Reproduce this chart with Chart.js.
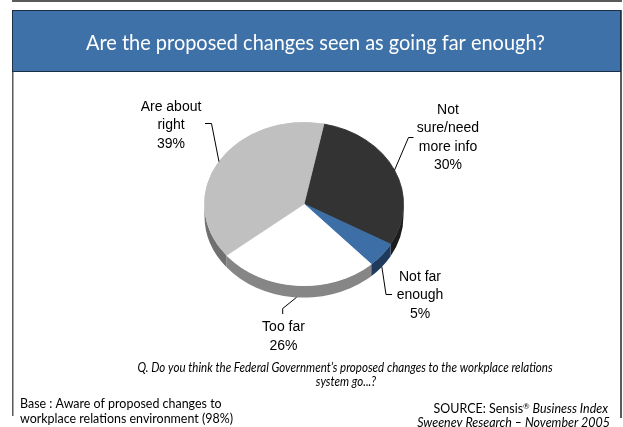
<!DOCTYPE html>
<html>
<head>
<meta charset="utf-8">
<script src="https://cdn.jsdelivr.net/npm/chart.js@4/dist/chart.umd.min.js"></script>
<style>
  html, body { margin: 0; padding: 0; background: #fff; }
  canvas { display: block; }
</style>
</head>
<body>
<canvas id="chart" width="623" height="427"></canvas>
<script>
// answers, clockwise from just right of twelve o'clock
const answers = ['Not sure/need more info', 'Not far enough', 'Too far', 'Are about right'];
const answerLines = [['Not', 'sure/need', 'more info'], ['Not far', 'enough'], ['Too far'], ['Are about', 'right']];
const shares = [30, 5, 26, 39];

const topColors = ['#333333', '#3d6ea6', '#ffffff', '#c0c0c0'];
const sideColors = ['#1c1c1c', '#1f3a5c', '#868686', '#707070'];

// where each label sits: centre x, first line y, leader elbow and end
const labelSpots = [
    { x: 448, y: 110, elbow: [408.5, 137.5], end: [413.5, 137.5] },
    { x: 420, y: 277, elbow: [386, 294.5], end: [392, 294.5] },
    { x: 283.5, y: 327.5, elbow: [282.7, 308.5], end: [282.7, 314] },
    { x: 171, y: 107, elbow: [211.5, 123.5], end: [205, 123.5] },
];

const title = 'Are the proposed changes seen as going far enough?';
const question = ['Q. Do you think the Federal Government\u2019s proposed changes to the workplace relations', 'system go...?'];
const baseNote = ['Base : Aware of proposed changes to', 'workplace relations environment (98%)'];

const squash = 0.82;   // vertical tilt of the pie
const depth = 12;      // thickness of the pie edge in px

const humanist = 'Lato, "Open Sans", sans-serif';
const labelFont = '14px "Liberation Sans", Arial, sans-serif';

// narrow a line of text horizontally so it takes the given width
function squeezeRatio(ctx, text, width) {
    return width / ctx.measureText(text).width;
}

function drawSqueezed(ctx, text, x, y, ratio) {
    ctx.save();
    ctx.translate(x, y);
    ctx.scale(ratio, 1);
    ctx.fillText(text, 0, 0);
    ctx.restore();
}

// squash the pie into an ellipse and draw its edge underneath
const tiltPlugin = {
    id: 'tilt',
    beforeDatasetsDraw(chart) {
        let ctx = chart.ctx;
        let arcs = chart.getDatasetMeta(0).data;
        let cx = arcs[0].x, cy = arcs[0].y;
        ctx.save();
        ctx.translate(cx, cy);
        ctx.scale(1, squash);
        ctx.translate(-cx, -cy);
        let d = depth / squash;
        arcs.forEach((arc, i) => {
            let r = arc.outerRadius;
            let a = Math.max(arc.startAngle, 0);
            let b = Math.min(arc.endAngle, Math.PI);
            if (b <= a) return;
            ctx.beginPath();
            ctx.arc(cx, cy, r, a, b);
            ctx.arc(cx, cy + d, r, b, a, true);
            ctx.closePath();
            ctx.fillStyle = sideColors[i];
            ctx.fill();
        });
    },
    afterDatasetsDraw(chart) {
        chart.ctx.restore();
    }
};

// frame, heading, leaders and footnotes
const slidePlugin = {
    id: 'slide',
    beforeDraw(chart) {
        let ctx = chart.ctx;
        ctx.save();
        ctx.fillStyle = '#ffffff';
        ctx.fillRect(0, 0, chart.width, chart.height);

        ctx.fillStyle = '#5a5a5a';
        ctx.fillRect(12, 0, 610, 2);
        ctx.fillRect(12, 72, 1.5, 344);
        ctx.fillRect(620, 10, 2, 408);

        ctx.fillStyle = '#3e71a7';
        ctx.fillRect(12, 10, 609, 62);
        ctx.strokeStyle = '#1d2f47';
        ctx.lineWidth = 1;
        ctx.strokeRect(12.5, 10.5, 608, 61);

        ctx.fillStyle = '#ffffff';
        ctx.textAlign = 'center';
        ctx.textBaseline = 'alphabetic';
        ctx.font = '22px ' + humanist;
        drawSqueezed(ctx, title, 315.5, 49.5, squeezeRatio(ctx, title, 459));
        ctx.restore();
    },
    afterDraw(chart) {
        let ctx = chart.ctx;
        let arcs = chart.getDatasetMeta(0).data;
        ctx.save();

        // leader lines from the middle of each slice
        ctx.strokeStyle = '#000000';
        ctx.lineWidth = 1;
        arcs.forEach((arc, i) => {
            let mid = (arc.startAngle + arc.endAngle) / 2;
            let sx = arc.x + arc.outerRadius * Math.cos(mid);
            let sy = arc.y + arc.outerRadius * Math.sin(mid) * squash;
            if (Math.sin(mid) > 0) sy += depth;
            let spot = labelSpots[i];
            ctx.beginPath();
            ctx.moveTo(sx, sy);
            ctx.lineTo(spot.elbow[0], spot.elbow[1]);
            ctx.lineTo(spot.end[0], spot.end[1]);
            ctx.stroke();
        });

        ctx.fillStyle = '#000000';
        ctx.font = labelFont;
        ctx.textAlign = 'center';
        ctx.textBaseline = 'middle';
        answerLines.forEach((lines, i) => {
            let spot = labelSpots[i];
            lines.concat([shares[i] + '%']).forEach((line, j) => {
                ctx.fillText(line, spot.x, spot.y + j * 18.5);
            });
        });

        ctx.textBaseline = 'alphabetic';
        ctx.font = 'italic 12.5px ' + humanist;
        let qRatio = squeezeRatio(ctx, question[0], 415);
        drawSqueezed(ctx, question[0], 345, 371.5, qRatio);
        drawSqueezed(ctx, question[1], 346, 385.5, qRatio);

        ctx.textAlign = 'left';
        ctx.font = '12.5px ' + humanist;
        let bRatio = squeezeRatio(ctx, baseNote[1], 213);
        drawSqueezed(ctx, baseNote[0], 20, 407.5, bRatio);
        drawSqueezed(ctx, baseNote[1], 20, 422.5, bRatio);

        // source line, right aligned in pieces
        let plain = '12.5px ' + humanist;
        let italic = 'italic ' + plain;
        let sup = '8px ' + humanist;
        let parts = [['SOURCE: Sensis', plain, 0], ['\u00ae', sup, -4], [' Business Index', italic, 0]];
        let total = 0;
        parts.forEach(p => { ctx.font = p[1]; total += ctx.measureText(p[0]).width * bRatio; });
        let x = 608 - total;
        parts.forEach(p => {
            ctx.font = p[1];
            drawSqueezed(ctx, p[0], x, 413 + p[2], bRatio);
            x += ctx.measureText(p[0]).width * bRatio;
        });
        ctx.textAlign = 'right';
        ctx.font = italic;
        drawSqueezed(ctx, 'Sweeney Research \u2013 November 2005', 610, 427, bRatio);
        ctx.restore();
    }
};

new Chart(document.getElementById('chart'), {
    type: 'pie',
    data: {
        labels: answers,
        datasets: [{
            data: shares,
            backgroundColor: topColors,
            borderColor: topColors,
            borderWidth: 1,
            clip: false,
        }]
    },
    options: {
        responsive: false,
        animation: false,
        events: [],
        rotation: 11.5,
        layout: {
            padding: { left: 204, right: 219, top: 104, bottom: 123 }
        },
        plugins: {
            legend: { display: false },
            tooltip: { enabled: false },
        }
    },
    plugins: [tiltPlugin, slidePlugin]
});
</script>
</body>
</html>
